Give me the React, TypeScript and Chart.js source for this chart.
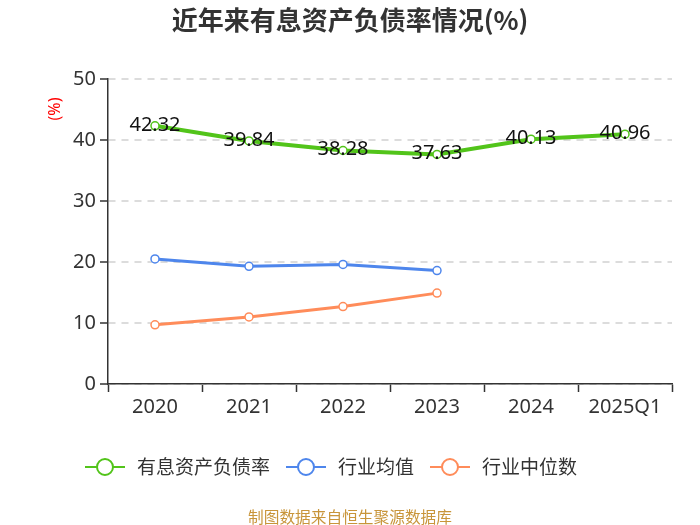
import React, { useEffect, useRef } from "react";
import { Chart, registerables } from "chart.js";

Chart.register(...registerables);

const categories = ["2020", "2021", "2022", "2023", "2024", "2025Q1"];
const debtRatio = [42.32, 39.84, 38.28, 37.63, 40.13, 40.96];
const industryAvg = [20.5, 19.3, 19.6, 18.6, null, null];
const industryMedian = [9.7, 11.0, 12.7, 14.9, null, null];
const seriesNames = ["有息资产负债率", "行业均值", "行业中位数"];
const yTicks = [0, 10, 20, 30, 40, 50];

const colors = ["#52c41a", "#4e86ec", "#ff8c5a"];
const FONT = "'Noto Sans', 'Noto Sans CJK SC', sans-serif";
const CJK = "'Noto Sans CJK SC', 'Noto Sans', sans-serif";

const overlay = {
  id: "overlay",
  afterDatasetsDraw(chart: any) {
    const ctx = chart.ctx;
    ctx.save();
    const meta = chart.getDatasetMeta(0);
    ctx.fillStyle = "#111";
    ctx.font = `20px ${FONT}`;
    ctx.textAlign = "center";
    ctx.textBaseline = "middle";
    meta.data.forEach((pt: any, i: number) => {
      ctx.fillText(debtRatio[i].toFixed(2), pt.x, pt.y - 1);
    });
    ctx.restore();
  },
  afterDraw(chart: any) {
    const ctx = chart.ctx;
    ctx.save();
    // title
    ctx.fillStyle = "#333";
    ctx.font = `bold 26px ${CJK}`;
    ctx.textAlign = "center";
    ctx.textBaseline = "middle";
    ctx.fillText("近年来有息资产负债率情况(%)", 350, 20);
    // y title
    ctx.save();
    ctx.translate(55, 109);
    ctx.rotate(-Math.PI / 2);
    ctx.fillStyle = "#ff0000";
    ctx.font = `16px ${FONT}`;
    ctx.fillText("(%)", 0, 0);
    ctx.restore();
    // legend
    let x = 85;
    const y = 467;
    ctx.font = `19px ${CJK}`;
    ctx.textAlign = "left";
    seriesNames.forEach((name, i) => {
      ctx.strokeStyle = colors[i];
      ctx.lineWidth = 2;
      ctx.beginPath();
      ctx.moveTo(x, y);
      ctx.lineTo(x + 40, y);
      ctx.stroke();
      ctx.beginPath();
      ctx.arc(x + 20, y, 8, 0, Math.PI * 2);
      ctx.fillStyle = "#fff";
      ctx.fill();
      ctx.stroke();
      ctx.fillStyle = "#333";
      ctx.fillText(name, x + 52, y);
      x += 52 + ctx.measureText(name).width + 16;
    });
    // source
    ctx.textAlign = "center";
    ctx.fillStyle = "#c8953a";
    ctx.font = `15.7px ${CJK}`;
    ctx.fillText("制图数据来自恒生聚源数据库", 350, 517);
    ctx.restore();
  },
};

export default function App() {
  const ref = useRef<HTMLCanvasElement>(null);
  useEffect(() => {
    document.body.style.margin = "0";
    const mk = (i: number, data: any[], label: string, width: number) => ({
      label,
      data,
      borderColor: colors[i],
      backgroundColor: "#fff",
      borderWidth: width,
      pointRadius: 4,
      pointBorderWidth: 1.5,
      pointBackgroundColor: "#fff",
      pointBorderColor: colors[i],
      tension: 0,
      spanGaps: false,
    });
    const chart = new Chart(ref.current!, {
      type: "line",
      data: {
        labels: categories,
        datasets: [
          mk(0, debtRatio, seriesNames[0], 4),
          mk(1, industryAvg, seriesNames[1], 3),
          mk(2, industryMedian, seriesNames[2], 3),
        ],
      },
      options: {
        animation: false,
        responsive: false,
        devicePixelRatio: 1,
        layout: { padding: { left: 0, right: 28, top: 79, bottom: 101 } },
        plugins: { legend: { display: false }, title: { display: false }, tooltip: { enabled: false } },
        scales: {
          x: {
            offset: true,
            grid: {
              offset: true,
              drawOnChartArea: false,
              drawTicks: true,
              tickLength: 8,
              tickColor: "#333",
              tickWidth: 1.5,
            },
            border: { color: "#333", width: 1.5 },
            ticks: { color: "#333", font: { size: 20, family: FONT }, padding: 3 },
            afterFit: (s: any) => { s.height = 40; },
          },
          y: {
            min: 0,
            max: 50,
            afterBuildTicks: (s: any) => { s.ticks = yTicks.map((v) => ({ value: v })); },
            grid: {
              color: "#dcdcdc",
              tickBorderDash: [],
              tickLength: 8,
              tickColor: "#333",
              tickWidth: 1.5,
              lineWidth: 2,
            },
            border: { color: "#333", width: 1.5, dash: [7, 6] },
            ticks: { color: "#333", font: { size: 20, family: FONT }, padding: 4 },
            afterFit: (s: any) => { s.width = 108; },
          },
        },
      },
      plugins: [overlay],
    });
    return () => chart.destroy();
  }, []);
  return (
    <div style={{ position: "fixed", left: 0, top: 0, width: 700, height: 525, background: "#fff" }}>
      <canvas ref={ref} width={700} height={525} style={{ width: 700, height: 525 }} />
    </div>
  );
}
